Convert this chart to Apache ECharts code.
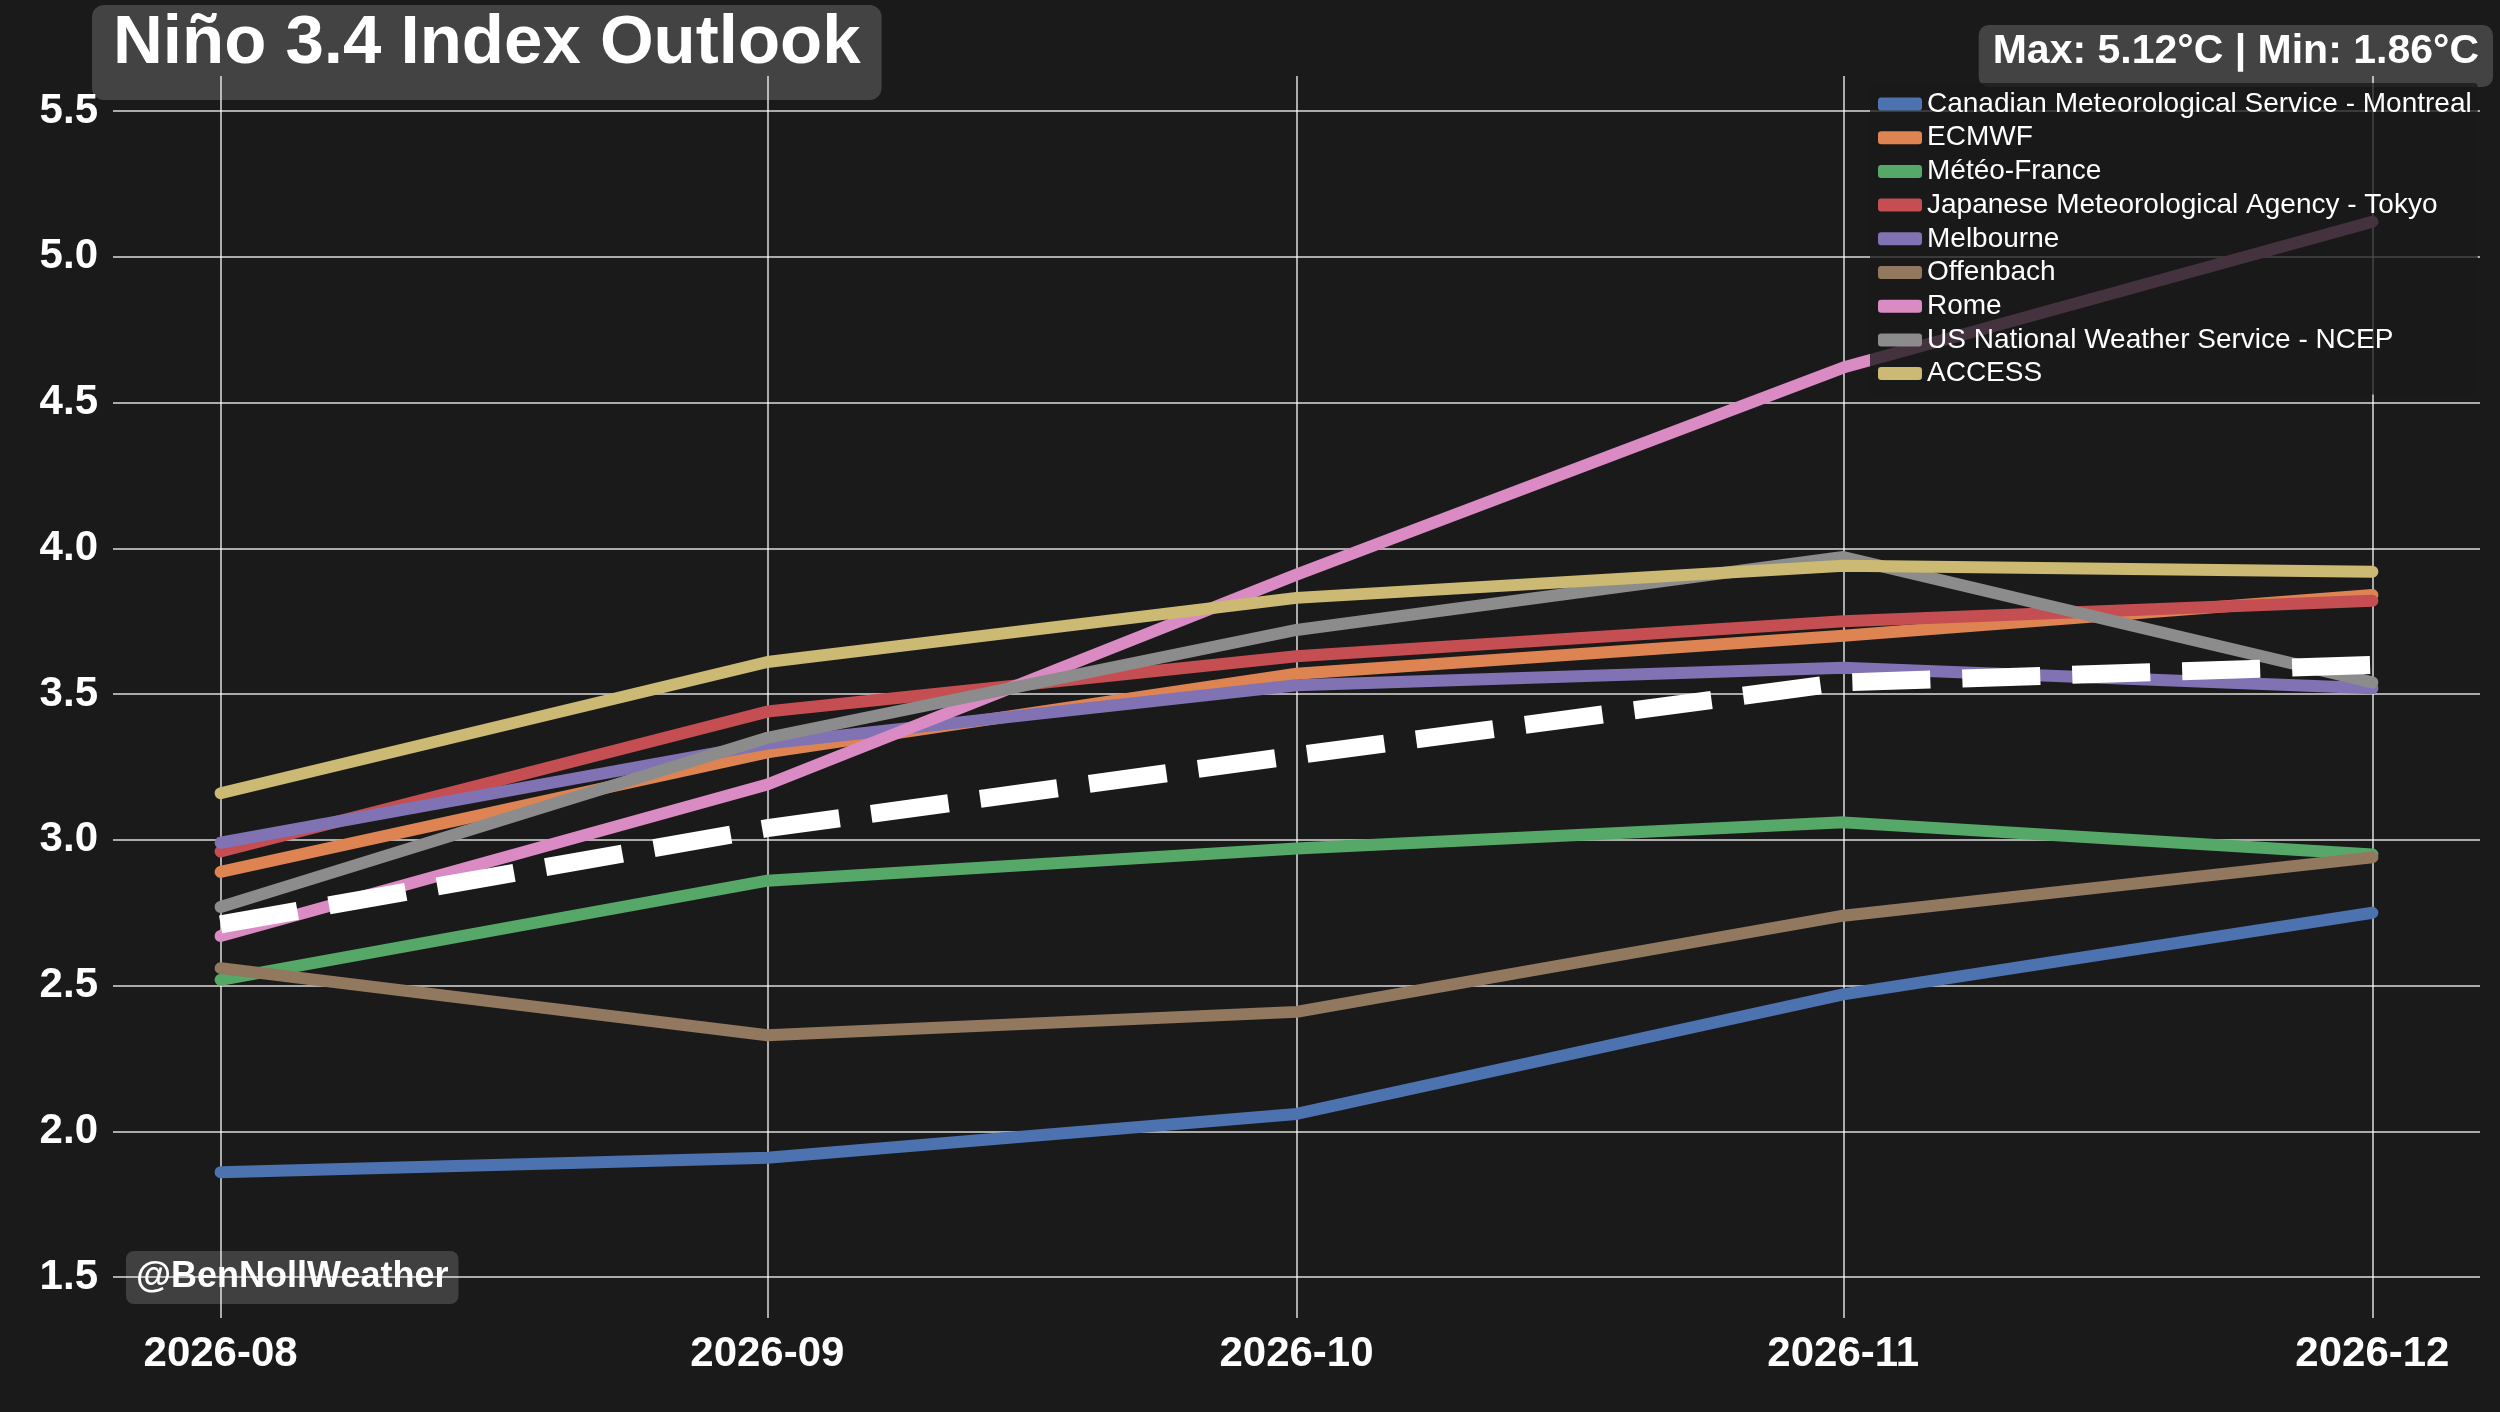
<!DOCTYPE html>
<html>
<head>
<meta charset="utf-8">
<title>Niño 3.4 Index Outlook</title>
<script src="https://cdn.jsdelivr.net/npm/echarts@6/dist/echarts.min.js"></script>
<style>
	html, body { margin: 0; padding: 0; background: #1a1a1a; }
	#chart { width: 2500px; height: 1412px; }
</style>
</head>
<body>
<div id="chart"></div>
<script>
var months = ['2026-08', '2026-09', '2026-10', '2026-11', '2026-12'];
var yTicks = [1.5, 2.0, 2.5, 3.0, 3.5, 4.0, 4.5, 5.0, 5.5];

var canadian = [1.86, 1.91, 2.06, 2.47, 2.75];
var ecmwf = [2.89, 3.30, 3.57, 3.70, 3.84];
var meteoFrance = [2.52, 2.86, 2.97, 3.06, 2.95];
var jma = [2.96, 3.44, 3.63, 3.75, 3.82];
var melbourne = [2.99, 3.33, 3.53, 3.59, 3.52];
var offenbach = [2.56, 2.33, 2.41, 2.74, 2.94];
var rome = [2.67, 3.19, 3.91, 4.62, 5.12];
var ncep = [2.77, 3.35, 3.72, 3.97, 3.54];
var access = [3.16, 3.61, 3.83, 3.94, 3.92];
var ensembleMean = [2.71, 3.04, 3.29, 3.54, 3.60];

var modelNames = [
	'Canadian Meteorological Service - Montreal',
	'ECMWF',
	'Météo-France',
	'Japanese Meteorological Agency - Tokyo',
	'Melbourne',
	'Offenbach',
	'Rome',
	'US National Weather Service - NCEP',
	'ACCESS'
];
var modelValues = [canadian, ecmwf, meteoFrance, jma, melbourne, offenbach, rome, ncep, access];
var colors = ['#4c72b0', '#dd8452', '#55a868', '#c44e52', '#8172b3', '#937860', '#da8bc3', '#8c8c8c', '#ccb974'];

(function () {
	var font = "'Liberation Sans', Arial, sans-serif";
	var chart = echarts.init(document.getElementById('chart'), null, { renderer: 'canvas' });

	// month labels -> timestamps (axis is a plain value axis in ms)
	function toTime(m) {
		var p = m.split('-');
		return Date.UTC(+p[0], +p[1] - 1, 1);
	}
	var monthTimes = months.map(toTime);
	var pad = (monthTimes[monthTimes.length - 1] - monthTimes[0]) * 0.05;

	function pairs(vals) {
		return vals.map(function (v, i) { return [monthTimes[i], v]; });
	}

	var all = [].concat.apply([], modelValues);
	var maxV = Math.max.apply(null, all);
	var minV = Math.min.apply(null, all);

	var series = modelNames.map(function (name, i) {
		return {
			name: name,
			type: 'line',
			data: pairs(modelValues[i]),
			showSymbol: false,
			symbol: 'none',
			color: colors[i],
			lineStyle: { width: 12, color: colors[i], cap: 'round', join: 'round' },
			z: 2
		};
	});
	series.push({
		name: 'Ensemble Mean',
		type: 'line',
		data: pairs(ensembleMean),
		showSymbol: false,
		symbol: 'none',
		color: '#ffffff',
		lineStyle: { width: 18, color: '#ffffff', type: [78, 32], cap: 'butt' },
		z: 3
	});

	var option = {
		backgroundColor: '#1a1a1a',
		animation: false,
		title: [{
			text: 'Niño 3.4 Index Outlook',
			left: 92,
			top: 5,
			z: 0,
			padding: [0, 21, 18, 21],
			backgroundColor: '#434343',
			borderRadius: 12,
			textStyle: { color: '#ffffff', fontFamily: font, fontWeight: 'bold', fontSize: 69, lineHeight: 77 }
		}, {
			text: 'Max: ' + maxV.toFixed(2) + '°C | Min: ' + minV.toFixed(2) + '°C',
			right: 7,
			top: 25,
			z: 0,
			padding: [4, 14, 12, 14],
			backgroundColor: '#434343',
			borderRadius: 10,
			textStyle: { color: '#ffffff', fontFamily: font, fontWeight: 'bold', fontSize: 41, lineHeight: 46 }
		}, {
			text: '@BenNollWeather',
			left: 126,
			top: 1251,
			z: 0,
			padding: [6, 10, 6, 10],
			backgroundColor: 'rgba(67,67,67,0.92)',
			borderRadius: 8,
			textStyle: { color: '#ffffff', fontFamily: font, fontWeight: 'bold', fontSize: 36, lineHeight: 41 }
		}],
		legend: {
			data: modelNames,
			orient: 'vertical',
			left: 1870,
			top: 83,
			padding: [7, 6, 7, 8],
			itemGap: 5.7,
			itemWidth: 44,
			itemHeight: 13,
			icon: 'roundRect',
			backgroundColor: 'rgba(26,26,26,0.78)',
			borderRadius: 4,
			z: 4,
			textStyle: { color: '#ffffff', fontFamily: font, fontSize: 28, lineHeight: 28 }
		},
		grid: { left: 113, right: 20, top: 76, bottom: 94, containLabel: false },
		xAxis: {
			type: 'value',
			min: monthTimes[0] - pad,
			max: monthTimes[monthTimes.length - 1] + pad,
			z: 1,
			axisLine: { show: false },
			axisTick: { show: false, customValues: monthTimes },
			axisLabel: {
				customValues: monthTimes,
				margin: 15,
				color: '#ffffff',
				fontFamily: font,
				fontWeight: 'bold',
				fontSize: 42,
				formatter: function (v) {
					var d = new Date(v);
					var m = d.getUTCMonth() + 1;
					return d.getUTCFullYear() + '-' + (m < 10 ? '0' + m : m);
				}
			},
			splitLine: { show: true, lineStyle: { color: 'rgba(255,255,255,0.85)', width: 1.5 } }
		},
		yAxis: {
			type: 'value',
			min: 1.36,
			max: 5.62,
			z: 1,
			axisLine: { show: false },
			axisTick: { show: false, customValues: yTicks },
			axisLabel: {
				customValues: yTicks,
				margin: 15,
				color: '#ffffff',
				fontFamily: font,
				fontWeight: 'bold',
				fontSize: 42,
				formatter: function (v) { return v.toFixed(1); }
			},
			splitLine: { show: true, lineStyle: { color: 'rgba(255,255,255,0.85)', width: 1.5 } }
		},
		series: series
	};

	chart.setOption(option);

	window.onresize = function () {
		chart.resize();
	};
})();
</script>
</body>
</html>
